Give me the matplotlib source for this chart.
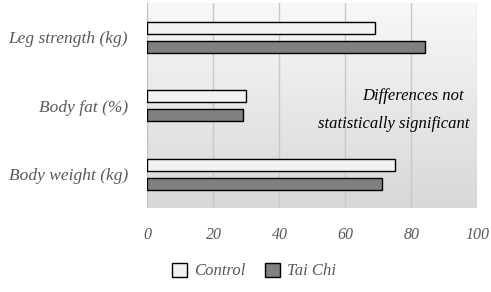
import numpy as np
import matplotlib
matplotlib.use("Agg")
import matplotlib.pyplot as plt
from matplotlib.patches import Patch

# data
categories = ["Leg strength (kg)", "Body fat (%)", "Body weight (kg)"]
control = [69, 30, 75]
tai_chi = [84, 29, 71]
xticks = [0, 20, 40, 60, 80, 100]

txt_font = "Liberation Serif"
grey_txt = "#595959"

fig = plt.figure(figsize=(4.91, 2.92), dpi=100)
ax = fig.add_axes([0.3004, 0.286, 0.672, 0.7038])

# gradient background of the plot area
grad = np.linspace(0, 1, 256).reshape(-1, 1)
ax.imshow(grad, cmap=matplotlib.colors.LinearSegmentedColormap.from_list("g", ["#f8f8f8", "#d8d8d8"]),
          aspect="auto", extent=[0, 1, 0, 1], transform=ax.transAxes, zorder=0)

y = np.arange(len(categories))
h = 0.17
off = 0.139
ax.barh(y - off, control, height=h, color="#f2f2f2", edgecolor="black", linewidth=1, zorder=3, label="Control")
ax.barh(y + off, tai_chi, height=h, color="#808080", edgecolor="black", linewidth=1, zorder=3, label="Tai Chi")

ax.set_xlim(0, 100)
ax.set_ylim(2.5, -0.5)
ax.set_xticks(xticks)
ax.set_yticks(y)
ax.set_yticklabels(categories, fontfamily=txt_font, fontstyle="italic", fontsize=12.5, color=grey_txt)
ax.set_xticklabels([str(v) for v in xticks], fontfamily=txt_font, fontstyle="italic", fontsize=11.5, color=grey_txt)
ax.tick_params(length=0)
ax.tick_params(axis="x", pad=13)
ax.tick_params(axis="y", pad=14)
for s in ax.spines.values():
    s.set_visible(False)
ax.grid(axis="x", color="#c8c8c8", linewidth=1, zorder=1)
ax.axvline(0, color="#c0c0c0", linewidth=1.2, zorder=2)

ax.text(80.5, 0.86, "Differences not", ha="center", va="center",
        fontfamily=txt_font, fontstyle="italic", fontsize=12, color="black", zorder=4)
ax.text(74.7, 1.27, "statistically significant", ha="center", va="center",
        fontfamily=txt_font, fontstyle="italic", fontsize=12, color="black", zorder=4)

handles = [Patch(facecolor="#f2f2f2", edgecolor="black", label="Control"),
           Patch(facecolor="#808080", edgecolor="black", label="Tai Chi")]
fig.legend(handles=handles, loc="center", bbox_to_anchor=(254 / 491, 1 - 271 / 292), ncol=2,
           frameon=False, handlelength=0.9, handleheight=0.9, handletextpad=0.4, columnspacing=1.2,
           prop={"family": txt_font, "style": "italic", "size": 12}, labelcolor=grey_txt)

fig.savefig("out.png", dpi=100)
